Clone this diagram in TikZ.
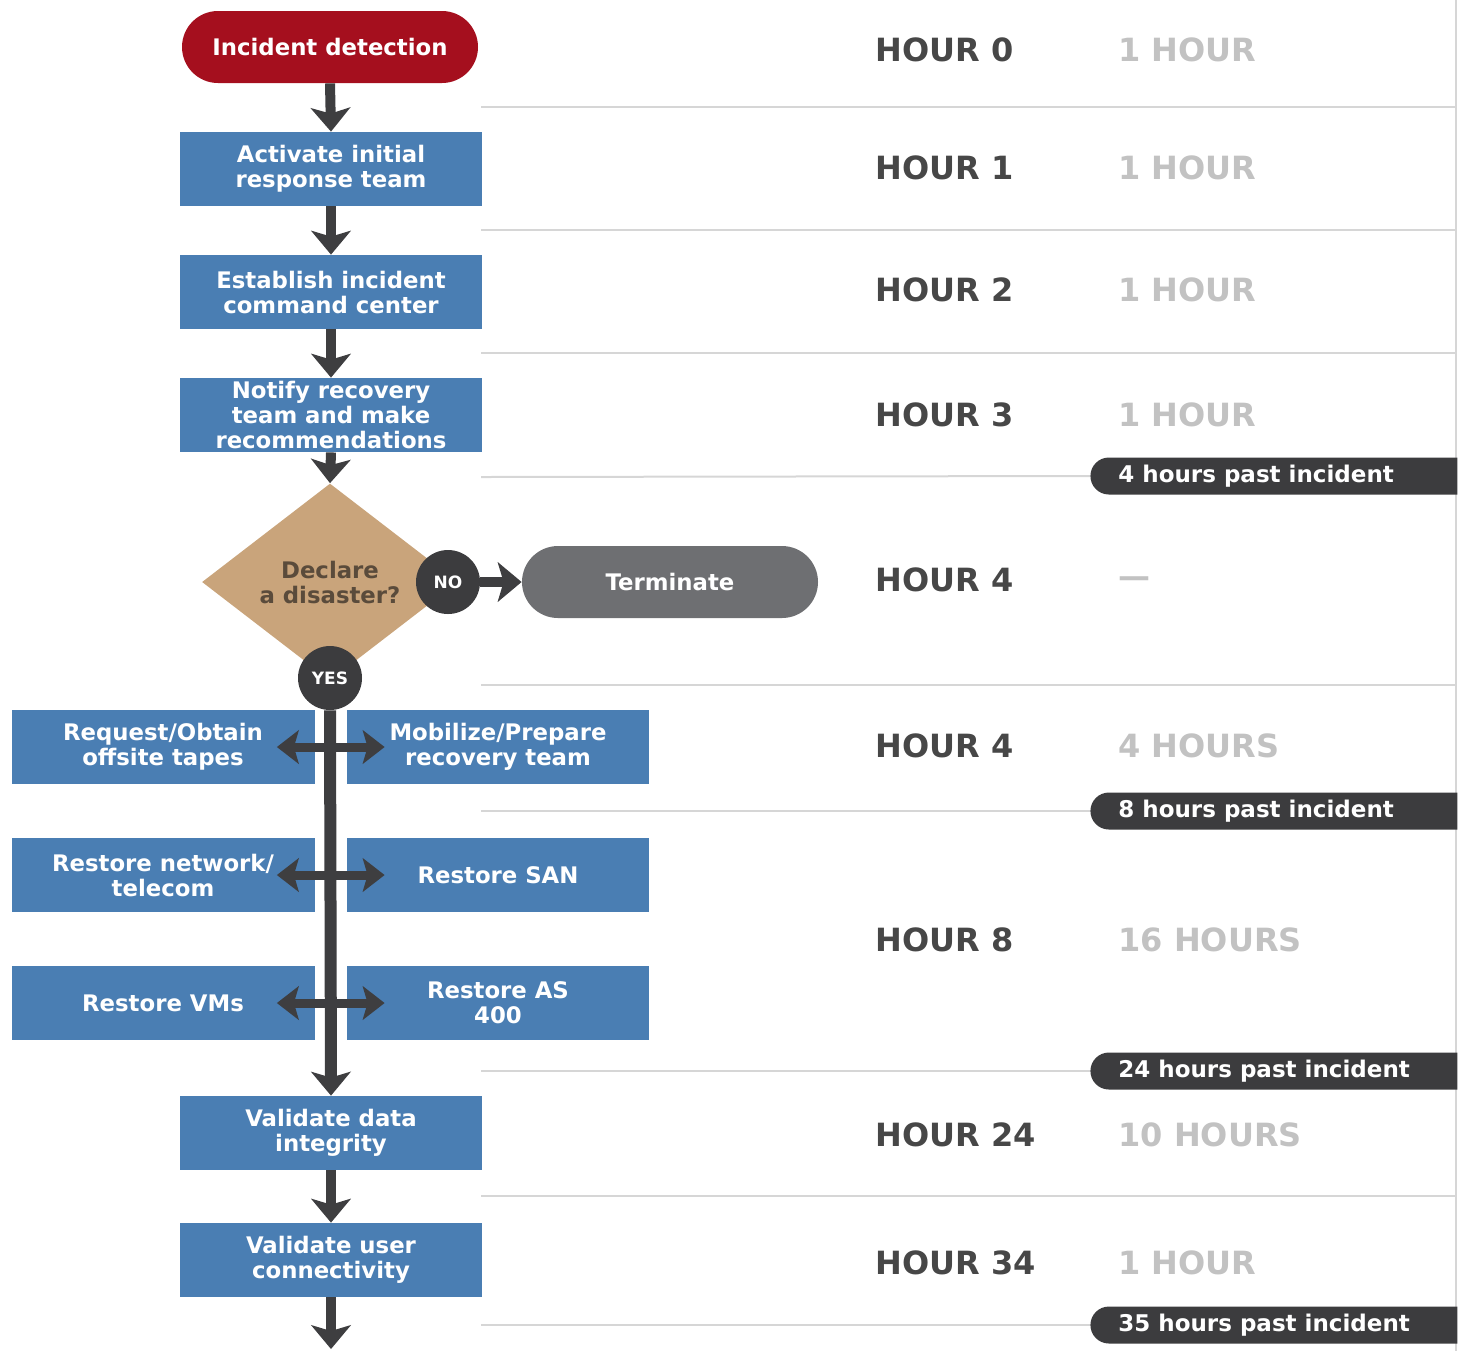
\documentclass[tikz,border=0pt]{standalone}
\usepackage{fontspec}
\setmainfont{DejaVu Sans}
\usetikzlibrary{arrows.meta,shapes.geometric,shapes.misc}
\definecolor{redc}{HTML}{A50F1E}
\definecolor{bluec}{HTML}{4A7EB3}
\definecolor{tanc}{HTML}{C9A47B}
\definecolor{darkc}{HTML}{3C3C3E}
\definecolor{termc}{HTML}{6E6F72}
\definecolor{arrowc}{HTML}{3E3E40}
\definecolor{hourc}{HTML}{474747}
\definecolor{durc}{HTML}{C2C2C2}
\definecolor{sepc}{HTML}{D6D6D6}
\definecolor{decc}{HTML}{5A4B3B}
\tikzset{
  boxfont/.style={font=\bfseries\fontsize{11.4}{12.5}\selectfont},
  stepbox/.style={boxfont, fill=bluec, text=white, minimum width=151pt, minimum height=37pt, inner sep=1pt, align=center},
  pill/.style={boxfont, text=white, rounded rectangle, minimum width=150pt, minimum height=36pt, inner sep=1pt},
  decision/.style={boxfont, diamond, aspect=1.3, fill=tanc, text=decc, minimum width=128pt, minimum height=98.5pt, inner sep=0pt, align=center},
  answer/.style={circle, fill=darkc, text=white, minimum size=32pt, inner sep=0pt, font=\bfseries\fontsize{8.5}{9}\selectfont},
  headtip/.tip={Stealth[length=12pt,width=20pt,inset=3pt,line width=1pt]},
  smalltip/.tip={Stealth[length=11pt,width=17pt,inset=2.5pt,line width=1pt]},
  flow/.style={line width=5pt, draw=arrowc, -headtip},
  trunk/.style={line width=6pt, draw=arrowc, -headtip},
  dbl/.style={line width=4.5pt, draw=arrowc, smalltip-smalltip},
  hour/.style={anchor=west, text=hourc, font=\bfseries\fontsize{16}{19}\selectfont, inner sep=0pt},
  dur/.style={anchor=west, text=durc, font=\bfseries\fontsize{16}{19}\selectfont, inner sep=0pt},
  badge/.style={rounded rectangle, rounded rectangle right arc=none, fill=darkc, minimum width=183.5pt, minimum height=18.5pt, inner sep=0pt, anchor=west},
  badgetxt/.style={anchor=west, text=white, font=\bfseries\fontsize{11.5}{13}\selectfont, inner sep=0pt},
  sep/.style={draw=sepc, line width=1pt},
}
\begin{document}
\begin{tikzpicture}[x=0.5pt, y=-0.5pt]
\useasboundingbox (0,0) rectangle (1459,1351);
% separator lines and right border
\draw[sep] (1456,0) -- (1456,1351);
% time column
\node[hour] (h0) at (875,50) {HOUR 0};
\node[dur] (d0) at (1118,50) {1 HOUR};
\node[hour] (h1) at (875,168) {HOUR 1};
\node[dur] (d1) at (1118,168) {1 HOUR};
\node[hour] (h2) at (875,290) {HOUR 2};
\node[dur] (d2) at (1118,290) {1 HOUR};
\node[hour] (h3) at (875,415) {HOUR 3};
\node[dur] (d3) at (1118,415) {1 HOUR};
\node[hour] (h4) at (875,580) {HOUR 4};
\node[dur] (d4) at (1118,582) {—};
\node[hour] (h4b) at (875,746) {HOUR 4};
\node[dur] (d4b) at (1118,746) {4 HOURS};
\node[hour] (h8) at (875,940) {HOUR 8};
\node[dur] (d8) at (1118,940) {16 HOURS};
\node[hour] (h24) at (875,1135) {HOUR 24};
\node[dur] (d24) at (1118,1135) {10 HOURS};
\node[hour] (h34) at (875,1263) {HOUR 34};
\node[dur] (d34) at (1118,1263) {1 HOUR};
% badges
\node[badge] (b1) at (1090,476) {};
\node[badgetxt] (t1) at (1118,476) {4 hours past incident};
\node[badge] (b2) at (1090,811) {};
\node[badgetxt] (t2) at (1118,811) {8 hours past incident};
\node[badge] (b3) at (1090,1071) {};
\node[badgetxt] (t3) at (1118,1071) {24 hours past incident};
\node[badge] (b4) at (1090,1325) {};
\node[badgetxt] (t4) at (1118,1325) {35 hours past incident};
\draw[sep] (481,107) -- (1456,107);
\draw[sep] (481,230) -- (1456,230);
\draw[sep] (481,353) -- (1456,353);
\draw[sep] (481,477) -- (b1.west);
\draw[sep] (481,685) -- (1456,685);
\draw[sep] (481,811) -- (b2.west);
\draw[sep] (481,1071) -- (b3.west);
\draw[sep] (481,1196) -- (1456,1196);
\draw[sep] (481,1325) -- (b4.west);
% flow
\node[pill, fill=redc] (inc) at (330,47) {Incident detection};
\node[stepbox] (act) at (331,169) {Activate initial\\response team};
\node[stepbox] (est) at (331,292) {Establish incident\\command center};
\node[stepbox] (nti) at (331,415) {Notify recovery\\team and make\\recommendations};
\node[decision] (dec) at (330,582) {Declare\\a disaster?};
\node[pill, fill=termc] (term) at (670,582) {Terminate};
\node[stepbox, minimum width=151.5pt] (l1) at (163,747) {Request/Obtain\\offsite tapes};
\node[stepbox] (r1) at (498,747) {Mobilize/Prepare\\recovery team};
\node[stepbox, minimum width=151.5pt] (l2) at (163,875) {Restore network/\\telecom};
\node[stepbox] (r2) at (498,875) {Restore SAN};
\node[stepbox, minimum width=151.5pt] (l3) at (163,1003) {Restore VMs};
\node[stepbox] (r3) at (498,1003) {Restore AS\\400};
\node[stepbox] (vd) at (331,1133) {Validate data\\integrity};
\node[stepbox] (vu) at (331,1260) {Validate user\\connectivity};
\coordinate (fin) at (331,1349);
\draw[flow] (inc.south) -- (act.north);
\draw[flow] (act.south) -- (est.north);
\draw[flow] (est.south) -- (nti.north);
\draw[flow] (nti.south) -- (dec.north);
\draw[dbl] ([xshift=-19pt]l1.east) -- ([xshift=19pt]r1.west);
\draw[dbl] ([xshift=-19pt]l2.east) -- ([xshift=19pt]r2.west);
\draw[dbl] ([xshift=-19pt]l3.east) -- ([xshift=19pt]r3.west);
\node[answer] (yes) at (330,678) {YES};
\draw[trunk] (yes.south) -- (vd.north);
\node[answer] (no) at (448,582) {NO};
\draw[flow] (no.east) -- (term.west);
\draw[flow] (vd.south) -- (vu.north);
\draw[flow] (vu.south) -- (fin);
\end{tikzpicture}
\end{document}
